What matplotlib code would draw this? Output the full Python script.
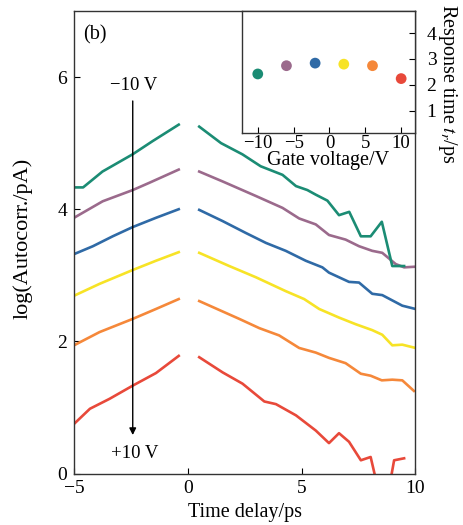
import matplotlib
matplotlib.use("Agg")
import matplotlib.pyplot as plt
import numpy as np

plt.rcParams['font.family'] = ['Liberation Serif', 'DejaVu Serif']
plt.rcParams['mathtext.fontset'] = 'stix'

colors = ['#1b8c74', '#9b6a8c', '#2f6aa6', '#f7e326', '#f5883a', '#e8493a']

# left branches (negative delay)
green_l_t = [-5.0, -4.6, -3.75, -2.43, -1.55, -0.4]
green_l_v = [4.33, 4.33, 4.57, 4.83, 5.03, 5.28]
purple_l_t = [-5.0, -3.74, -2.42, -1.69, -0.4]
purple_l_v = [3.87, 4.12, 4.29, 4.40, 4.60]
blue_l_t = [-5.0, -4.17, -3.3, -2.42, -1.4, -0.4]
blue_l_v = [3.32, 3.44, 3.59, 3.73, 3.87, 4.00]
yellow_l_t = [-5.0, -3.88, -2.42, -1.4, -0.4]
yellow_l_v = [2.69, 2.87, 3.08, 3.22, 3.35]
orange_l_t = [-5.0, -3.88, -2.42, -1.4, -0.4]
orange_l_v = [1.94, 2.14, 2.34, 2.49, 2.64]
red_l_t = [-5.0, -4.3, -3.44, -2.42, -1.4, -0.4]
red_l_v = [0.75, 0.98, 1.13, 1.33, 1.52, 1.78]

# right branches (positive delay)
green_r_t = [0.5, 1.46, 2.4, 3.2, 3.57, 4.16, 4.75, 5.25, 5.62, 6.13, 6.64, 7.09, 7.6, 8.03, 8.52, 8.98, 9.5]
green_r_v = [5.25, 5.0, 4.83, 4.65, 4.6, 4.52, 4.35, 4.29, 4.22, 4.13, 3.91, 3.96, 3.59, 3.59, 3.81, 3.14, 3.14]
purple_r_t = [0.5, 1.53, 2.99, 4.16, 4.89, 5.62, 6.2, 6.93, 7.52, 8.1, 8.54, 9.13, 9.5, 10.0]
purple_r_v = [4.57, 4.42, 4.2, 4.02, 3.86, 3.77, 3.61, 3.54, 3.44, 3.37, 3.34, 3.17, 3.12, 3.13]
blue_r_t = [0.5, 1.53, 2.55, 3.43, 4.3, 5.18, 5.91, 6.2, 7.08, 7.52, 8.1, 8.54, 9.42, 10.0]
blue_r_v = [3.99, 3.82, 3.64, 3.49, 3.37, 3.22, 3.12, 3.04, 2.9, 2.89, 2.72, 2.7, 2.54, 2.49]
yellow_r_t = [0.5, 1.82, 2.99, 4.3, 5.11, 5.77, 6.64, 7.37, 8.1, 8.54, 8.98, 9.42, 10.0]
yellow_r_v = [3.34, 3.14, 2.97, 2.76, 2.64, 2.49, 2.36, 2.26, 2.17, 2.1, 1.94, 1.95, 1.9]
orange_r_t = [0.5, 2.26, 3.14, 4.01, 4.89, 5.62, 6.2, 6.93, 7.6, 8.03, 8.52, 8.98, 9.42, 9.93]
orange_r_v = [2.61, 2.34, 2.2, 2.09, 1.9, 1.83, 1.75, 1.67, 1.51, 1.48, 1.41, 1.42, 1.41, 1.25]
red_r_t = [0.5, 1.53, 2.4, 3.36, 3.87, 4.75, 5.62, 6.2, 6.64, 7.08, 7.6, 8.03, 8.4, 8.8, 9.06, 9.5]
red_r_v = [1.76, 1.53, 1.36, 1.09, 1.05, 0.88, 0.65, 0.46, 0.61, 0.48, 0.2, 0.25, -0.3, -0.3, 0.2, 0.23]

# inset data
gate_voltage = [-10, -6, -2, 2, 6, 10]
response_time = [2.42, 2.74, 2.84, 2.80, 2.74, 2.24]

left_t = [green_l_t, purple_l_t, blue_l_t, yellow_l_t, orange_l_t, red_l_t]
left_v = [green_l_v, purple_l_v, blue_l_v, yellow_l_v, orange_l_v, red_l_v]
right_t = [green_r_t, purple_r_t, blue_r_t, yellow_r_t, orange_r_t, red_r_t]
right_v = [green_r_v, purple_r_v, blue_r_v, yellow_r_v, orange_r_v, red_r_v]

W, H = 464, 525
fig = plt.figure(figsize=(W / 100, H / 100), dpi=100)
ax = fig.add_axes([74 / W, 1 - 473.5 / H, (415.5 - 74) / W, (473.5 - 11) / H])

for i in range(5, -1, -1):
    ax.plot(left_t[i], left_v[i], color=colors[i], lw=1.9, solid_joinstyle='round')
    ax.plot(right_t[i], right_v[i], color=colors[i], lw=1.9, solid_joinstyle='round')

ax.set_xlim(-5, 10)
ax.set_ylim(0, 7)
ax.set_xticks([-5, 0, 5, 10])
ax.set_xticklabels(['\u22125', '0', '5', '10'])
ax.set_yticks([0, 2, 4, 6])
ax.tick_params(direction='in', length=4, width=0.8, labelsize=14, pad=5)
ax.set_xlabel('Time delay/ps', fontsize=14.5, va='center')
ax.xaxis.set_label_coords((245 - 74) / (415.5 - 74), -(513 - 473.5) / (473.5 - 11))
ax.set_ylabel('log(Autocorr./pA)', fontsize=16, va='center')
ax.yaxis.set_label_coords(-(74 - 23) / (415.5 - 74), (473.5 - 238) / (473.5 - 11))
for s in ax.spines.values():
    s.set_linewidth(1.0)
    s.set_color('#333333')

ax.text(-4.6, 6.64, '(b)', fontsize=14.5, ha='left', va='center')
ax.annotate('', xy=(-2.42, 0.54), xytext=(-2.42, 5.68),
            arrowprops=dict(arrowstyle='-|>', color='black', lw=1.0, mutation_scale=10))
ax.text(-2.39, 5.87, '\u221210 V', fontsize=13.5, ha='center', va='center')
ax.text(-2.35, 0.31, '+10 V', fontsize=13.5, ha='center', va='center')

# inset
ins = fig.add_axes([242 / W, 1 - 133.3 / H, (415.5 - 242) / W, (133.3 - 11) / H])
ins.scatter(gate_voltage, response_time, c=colors, s=60, zorder=3, edgecolors='none')
ins.set_xlim(-12.2, 12)
ins.set_ylim(0.12, 4.86)
ins.set_xticks([-10, -5, 0, 5, 10])
ins.set_xticklabels(['\u221210', '\u22125', '0', '5', '10'])
ins.set_yticks([1, 2, 3, 4])
ins.yaxis.tick_right()
ins.yaxis.set_label_position('right')
ins.tick_params(direction='in', length=4, width=0.8, labelsize=14)
ins.tick_params(axis='x', pad=1, labelsize=13.5)
ins.tick_params(axis='y', pad=8)
ins.set_xlabel('Gate voltage/V', fontsize=14.5, va='center')
ins.xaxis.set_label_coords((328 - 242) / (415.5 - 242), -(161 - 133.3) / (133.3 - 11))
ins.set_ylabel('Response time $t_r$/ps', fontsize=14.5, rotation=270, va='center')
ins.yaxis.set_label_coords((448 - 242) / (415.5 - 242), (133.3 - 84) / (133.3 - 11))
for s in ins.spines.values():
    s.set_linewidth(1.0)
    s.set_color('#333333')

fig.savefig('out.png', dpi=100)
